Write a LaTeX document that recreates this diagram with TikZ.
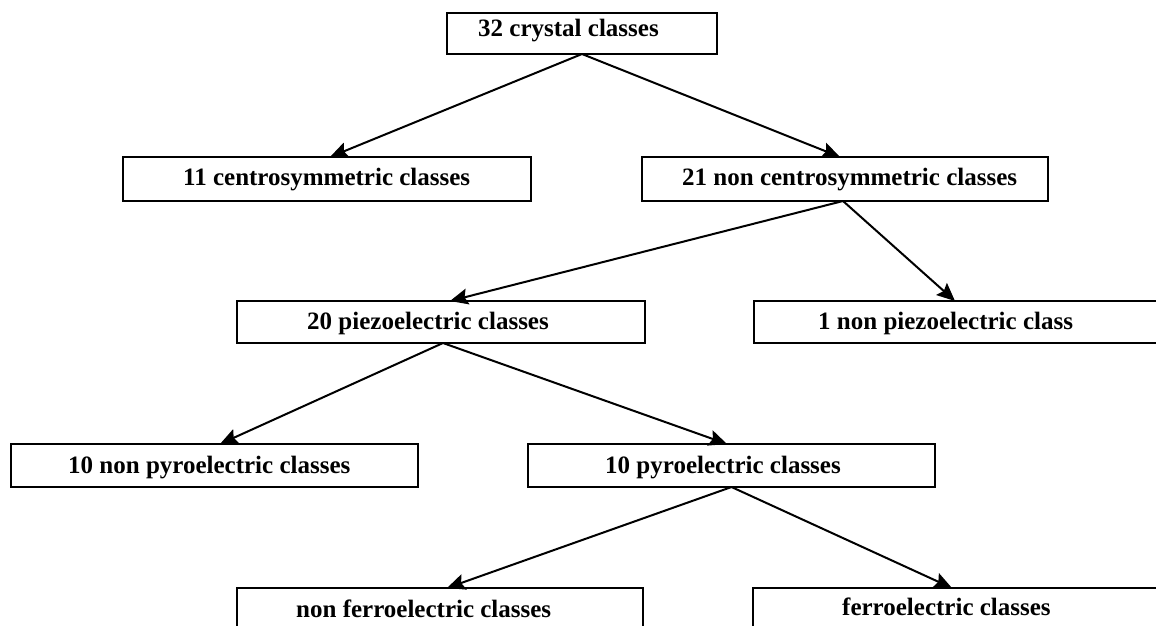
\documentclass[tikz,border=0pt]{standalone}
\usepackage{fontspec}
\setmainfont{Liberation Serif}
\usetikzlibrary{arrows.meta}
\begin{document}
\begin{tikzpicture}[x=1pt,y=-1pt,
  box/.style={draw=black,line width=2pt,rectangle,inner sep=0pt,outer sep=0pt,fill=white},
  lbl/.style={anchor=base west,inner sep=0pt,font=\fontsize{25}{28}\selectfont\bfseries},
  conn/.style={line width=2pt,-{Stealth[length=18pt,width=16pt,inset=3pt]}}]
\clip (0,0) rectangle (1156,625);
\fill[white] (0,0) rectangle (1156,625);
% boxes
\node[box,minimum width=270pt,minimum height=41pt] (b1) at (582,33.5) {};
\node[box,minimum width=408pt,minimum height=44pt] (b2) at (327,179) {};
\node[box,minimum width=406pt,minimum height=44pt] (b3) at (845,179) {};
\node[box,minimum width=408pt,minimum height=42pt] (b4) at (441,322) {};
\node[box,minimum width=416pt,minimum height=42pt] (b5) at (962,322) {};
\node[box,minimum width=407pt,minimum height=43pt] (b6) at (214.5,465.5) {};
\node[box,minimum width=407pt,minimum height=43pt] (b7) at (731.5,465.5) {};
\node[box,minimum width=406pt,minimum height=52pt] (b8) at (440,614) {};
\node[box,minimum width=417pt,minimum height=52pt] (b9) at (961.5,614) {};
% texts
\node[lbl] (t1) at (478,36) {32 crystal classes};
\node[lbl] (t2) at (183,185.5) {11 centrosymmetric classes};
\node[lbl] (t3) at (682,185.5) {21 non centrosymmetric classes};
\node[lbl] (t4) at (307,329) {20 piezoelectric classes};
\node[lbl] (t5) at (818,329) {1 non piezoelectric class};
\node[lbl] (t6) at (68,473) {10 non pyroelectric classes};
\node[lbl] (t7) at (605,473) {10 pyroelectric classes};
\node[lbl] (t8) at (296,617) {non ferroelectric classes};
\node[lbl] (t9) at (842,615) {ferroelectric classes};
% connectors
\draw[conn] (b1.south) -- ([xshift=3pt]b2.north);
\draw[conn] (b1.south) -- ([xshift=-5pt]b3.north);
\draw[conn] ([xshift=-2pt]b3.south) -- ([xshift=9pt]b4.north);
\draw[conn] ([xshift=-2pt]b3.south) -- ([xshift=-7pt]b5.north);
\draw[conn] ([xshift=2pt]b4.south) -- ([xshift=5.5pt]b6.north);
\draw[conn] ([xshift=2pt]b4.south) -- ([xshift=-4.5pt]b7.north);
\draw[conn] (b7.south) -- ([xshift=7pt]b8.north);
\draw[conn] (b7.south) -- ([xshift=-9.5pt]b9.north);
\end{tikzpicture}
\end{document}
